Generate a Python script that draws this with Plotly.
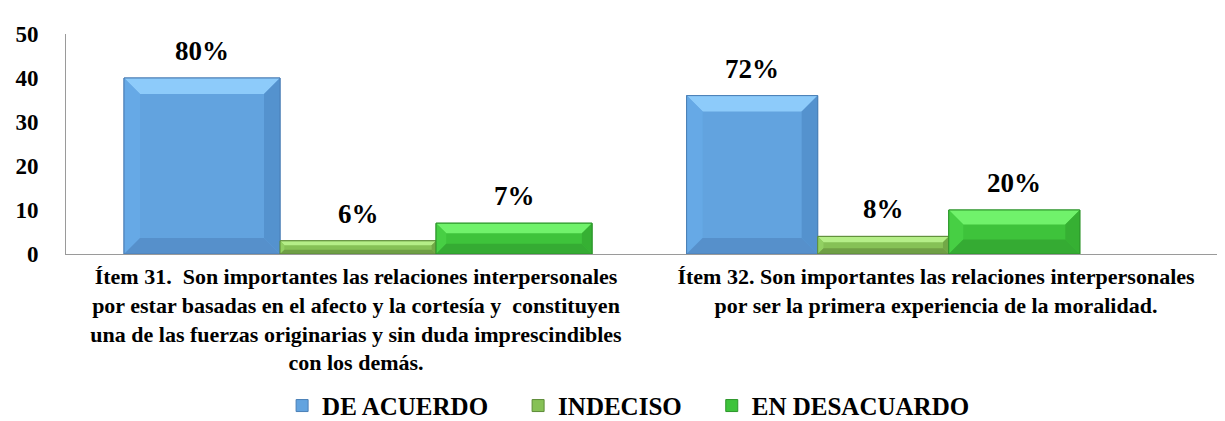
import plotly.graph_objects as go

# data
categories = [
    "Ítem 31.  Son importantes las relaciones interpersonales<br>"
    "por estar basadas en el afecto y la cortesía y  constituyen<br>"
    "una de las fuerzas originarias y sin duda imprescindibles<br>"
    "con los demás.",
    "Ítem 32. Son importantes las relaciones interpersonales<br>"
    "por ser la primera experiencia de la moralidad.",
]
series_names = ["DE ACUERDO", "INDECISO", "EN DESACUARDO"]
de_acuerdo = [40, 36]
indeciso = [3, 4]
en_desacuerdo = [7, 10]
de_acuerdo_labels = ["80%", "72%"]
indeciso_labels = ["6%", "8%"]
en_desacuerdo_labels = ["7%", "20%"]

# styling
W, H = 1225, 421
M = dict(l=58, r=7, t=26, b=175, autoexpand=False)
XR = (-0.5, 1.5)
YR = (0, 50)
FONT = "Liberation Serif"


def bold(t):
    return "<b>" + t.replace("<br>", "</b><br><b>") + "</b>"


# bar geometry per category (fractions of a category slot)
bar_w = [0.269, 0.226]
group_start = [-0.40, -0.43]

# face colours: base, top, left, right, bottom, border
palettes = [
    ("#62a3df", "#8dcbfa", "#66a9e6", "#5492ce", "#5690cb", "#4a7fb6"),
    ("#86c156", "#b5ee88", "#92d062", "#72a847", "#6f9f45", "#5d8b38"),
    ("#3ec33b", "#70f26b", "#47cf44", "#36b033", "#35ab33", "#2c952a"),
]

series = [de_acuerdo, indeciso, en_desacuerdo]
labels = [de_acuerdo_labels, indeciso_labels, en_desacuerdo_labels]
xs = list(range(len(categories)))

plot_w = W - M["l"] - M["r"]
plot_h = H - M["t"] - M["b"]
px_x = (XR[1] - XR[0]) / plot_w
px_y = (YR[1] - YR[0]) / plot_h

fig = go.Figure()
shapes = []
annotations = []
gap = "\u00a0" * 4

for si, (name, vals, labs, pal) in enumerate(zip(series_names, series, labels, palettes)):
    offsets = [group_start[i] + si * bar_w[i] for i in xs]
    fig.add_trace(go.Bar(
        name=bold(name) + (gap if si < len(series_names) - 1 else ""),
        x=xs,
        y=vals,
        width=bar_w,
        offset=offsets,
        marker=dict(color=pal[0], line=dict(color=pal[5], width=1)),
        hoverinfo="skip",
    ))
    for i in xs:
        x0 = xs[i] + offsets[i]
        x1 = x0 + bar_w[i]
        y0, y1 = 0, vals[i]
        h_px = (y1 - y0) / px_y
        w_px = bar_w[i] / px_x
        b = min(16, h_px * 0.33, w_px * 0.3)
        bx, by = b * px_x, b * px_y
        ix0, ix1, iy0, iy1 = x0 + bx, x1 - bx, y0 + by, y1 - by
        faces = [
            (pal[1], [(x0, y1), (x1, y1), (ix1, iy1), (ix0, iy1)]),
            (pal[2], [(x0, y0), (x0, y1), (ix0, iy1), (ix0, iy0)]),
            (pal[3], [(x1, y0), (x1, y1), (ix1, iy1), (ix1, iy0)]),
            (pal[4], [(x0, y0), (x1, y0), (ix1, iy0), (ix0, iy0)]),
        ]
        for col, pts in faces:
            path = "M " + " L ".join(f"{px},{py}" for px, py in pts) + " Z"
            shapes.append(dict(type="path", xref="x", yref="y", path=path,
                               fillcolor=col, line=dict(width=0), layer="above"))
        shapes.append(dict(type="rect", xref="x", yref="y", x0=x0, x1=x1, y0=y0, y1=y1,
                           line=dict(color=pal[5], width=1), fillcolor="rgba(0,0,0,0)",
                           layer="above"))
        annotations.append(dict(
            x=(x0 + x1) / 2, y=vals[i], xref="x", yref="y", text=bold(labs[i]),
            showarrow=False, yanchor="bottom", yshift=10,
            font=dict(family=FONT, size=27, color="#000000"),
        ))

fig.update_layout(
    width=W, height=H, margin=M,
    paper_bgcolor="white", plot_bgcolor="white",
    font=dict(family=FONT, color="#000000"),
    barmode="overlay",
    shapes=shapes,
    annotations=annotations,
    showlegend=True,
    legend=dict(
        orientation="h", x=0.485, xanchor="center", y=-0.69, yanchor="middle",
        font=dict(family=FONT, size=25, color="#000000"),
        itemwidth=30, traceorder="normal",
    ),
)
fig.update_xaxes(
    range=XR, tickvals=xs, ticktext=[bold(c) for c in categories], automargin=False,
    showline=True, linecolor="#9a9a9a", linewidth=1,
    showgrid=False, zeroline=False, ticks="",
    tickfont=dict(family=FONT, size=22, color="#000000"),
    ticklabelstandoff=3,
)
fig.update_yaxes(
    range=YR, tickvals=[0, 10, 20, 30, 40, 50],
    ticktext=[bold(str(v)) for v in [0, 10, 20, 30, 40, 50]], automargin=False,
    showline=True, linecolor="#9a9a9a", linewidth=1,
    showgrid=False, zeroline=False, ticks="",
    tickfont=dict(family=FONT, size=23, color="#000000"),
    ticklabelstandoff=22,
)

fig.write_html("out.html")
